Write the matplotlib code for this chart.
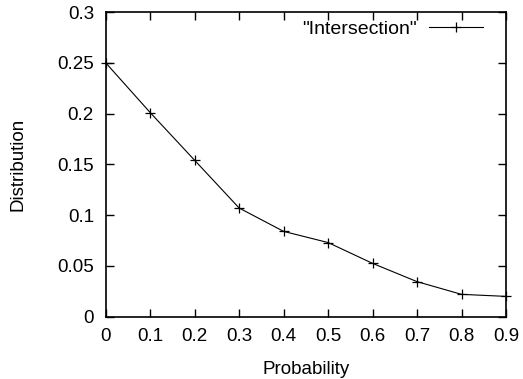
import numpy as np
import matplotlib.pyplot as plt

plt.rcParams['font.family'] = ['Liberation Sans', 'DejaVu Sans']
plt.rcParams['font.size'] = 13.5

# data
probability = [0.0, 0.1, 0.2, 0.3, 0.4, 0.5, 0.6, 0.7, 0.8, 0.9]
distribution = [0.250, 0.201, 0.154, 0.107, 0.084, 0.073, 0.0525, 0.0345, 0.022, 0.020]
xticks = [0, 0.1, 0.2, 0.3, 0.4, 0.5, 0.6, 0.7, 0.8, 0.9]
xtick_labels = ["0", "0.1", "0.2", "0.3", "0.4", "0.5", "0.6", "0.7", "0.8", "0.9"]
yticks = [0, 0.05, 0.1, 0.15, 0.2, 0.25, 0.3]
ytick_labels = ["0", "0.05", "0.1", "0.15", "0.2", "0.25", "0.3"]

fig = plt.figure(figsize=(5.23, 3.79), dpi=100)
ax = fig.add_axes([0.2021, 0.1644, 0.9675 - 0.2021, 0.9683 - 0.1644])

ax.plot(probability, distribution, color='black', linewidth=0.8,
        marker='+', markersize=7, markeredgewidth=0.9, clip_on=False,
        label='"Intersection"')

ax.set_xlim(0, 0.9)
ax.set_ylim(0, 0.3)
ax.set_xticks(xticks)
ax.set_xticklabels(xtick_labels)
ax.set_yticks(yticks)
ax.set_yticklabels(ytick_labels)
ax.tick_params(direction='in', length=6, width=1, top=True, right=True, pad=8.5)
for s in ax.spines.values():
    s.set_linewidth(1.2)

ax.set_xlabel("Probability", labelpad=11)
ax.set_ylabel("Distribution", labelpad=22)

ax.legend(loc='upper right', bbox_to_anchor=(0.9426, 0.9737), frameon=False,
          markerfirst=False, handlelength=2.8, borderaxespad=0, borderpad=0,
          handletextpad=0.6, fontsize=14)

plt.savefig("out.png", dpi=100)
